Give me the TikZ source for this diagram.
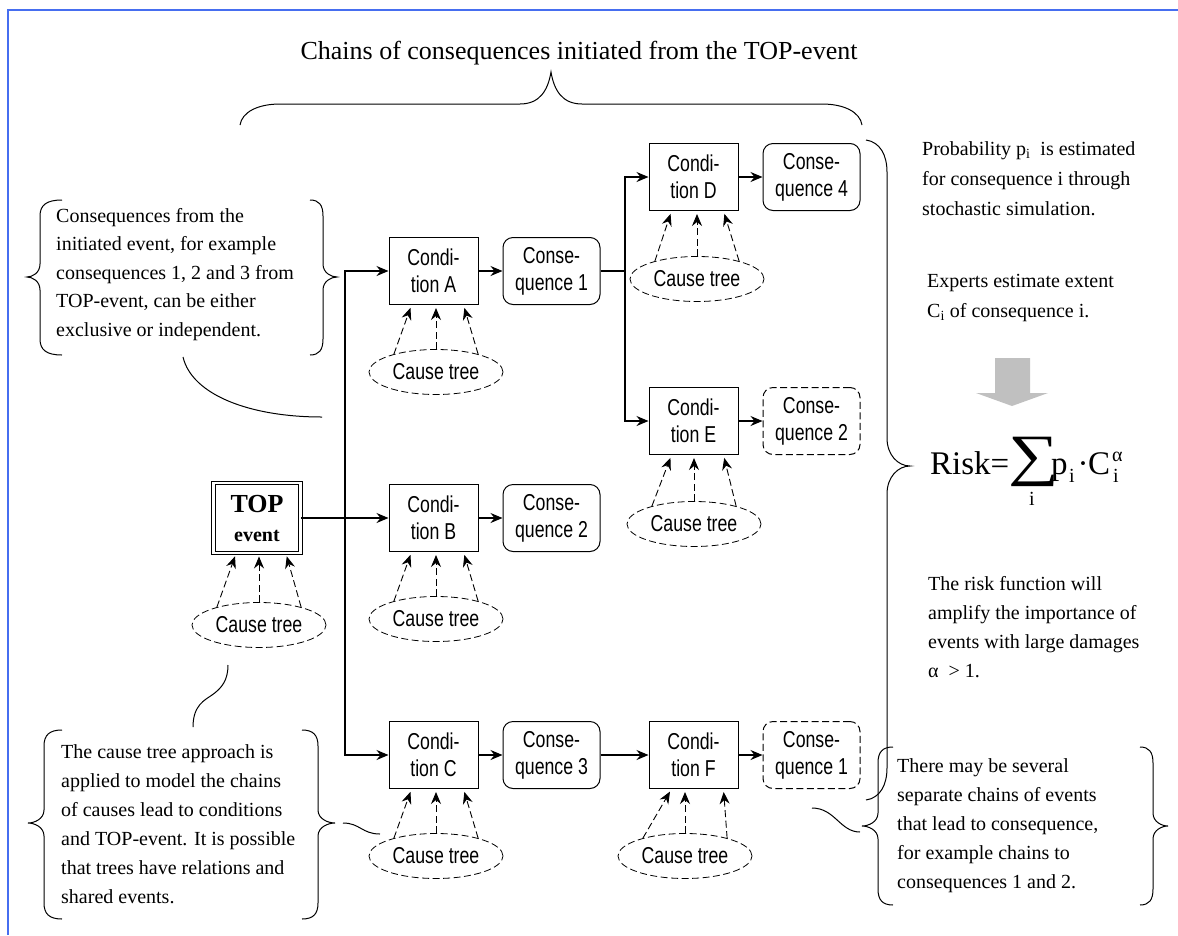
\documentclass[tikz,border=0pt]{standalone}
\usepackage{fontspec}
\setmainfont{Liberation Serif}
\newfontfamily\narrowsans[FakeStretch=0.77]{Liberation Sans}
\usetikzlibrary{arrows.meta,shapes.geometric}

\definecolor{frameblue}{RGB}{70,110,240}
\definecolor{hintgrey}{RGB}{192,192,192}

\tikzset{
  lbl/.style={font=\narrowsans\fontsize{23}{27}\selectfont, align=center, inner sep=0pt},
  cond/.style={lbl, draw, line width=1pt, minimum width=89pt, minimum height=67pt},
  cons/.style={cond, rounded corners=10pt, minimum width=97pt},
  consalt/.style={cons, dash pattern=on 7pt off 3.5pt},
  topbox/.style={draw, double, double distance=2.5pt, line width=0.9pt,
    minimum width=87pt, minimum height=70pt, align=center, inner sep=0pt,
    font=\fontsize{20}{29}\selectfont\bfseries},
  ctree/.style={lbl, ellipse, draw, line width=0.8pt, dash pattern=on 7pt off 3.5pt,
    minimum width=134pt, minimum height=45pt},
  flow/.style={line width=1.1pt, -{Stealth[length=12pt,width=10pt,inset=4pt]}},
  plain/.style={line width=1.1pt},
  ctarr/.style={line width=0.9pt, dash pattern=on 7pt off 3.5pt, shorten >=3pt,
    -{Stealth[length=12pt,width=10pt,inset=4pt]}},
  brc/.style={line width=1pt},
  % multi-line notes are placed by the baseline of their last line
  txt/.style={font=\fontsize{20}{29}\selectfont, align=left, inner sep=0pt, anchor=base west},
  big/.style={inner sep=0pt, font=\fontsize{33}{33}\selectfont},
  small/.style={inner sep=0pt, font=\fontsize{20}{20}\selectfont},
}

% vertical curly brace: end x, top y, bottom y, bar x, tip x, tip y
\newcommand{\VBrace}[6]{%
  \draw[brc] (#1,#2) .. controls ({#4+0.3*(#1-#4)},#2) and (#4,{#2+5}) .. (#4,{#2+16})
    -- (#4,{#6-13}) .. controls (#4,{#6-4}) and ({#5+0.4*(#4-#5)},#6) .. (#5,#6)
    .. controls ({#5+0.4*(#4-#5)},#6) and (#4,{#6+4}) .. (#4,{#6+13})
    -- (#4,{#3-16}) .. controls (#4,{#3-5}) and ({#4+0.3*(#1-#4)},#3) .. (#1,#3);}

% three dashed cause arrows from a cause tree into a box
\newcommand{\CauseArrows}[2]{%
  \draw[ctarr] (#1.157) -- ([xshift=23pt]#2.south west);
  \draw[ctarr] (#1.north) -- (#1.north |- #2.south);
  \draw[ctarr] (#1.23) -- ([xshift=-15pt]#2.south east);}

\begin{document}
\begin{tikzpicture}[x=1pt,y=-1pt]
\useasboundingbox (0,0) rectangle (1178,935);

% frame
\draw[frameblue, line width=1.6pt] (8,935) -- (8,10) -- (1178,10);

% title and top brace
\node[font=\fontsize{26}{30}\selectfont, anchor=base, inner sep=0pt] (title) at (579,59)
  {Chains of consequences initiated from the TOP-event};
\draw[brc] (240,125) .. controls (242,112) and (258,104) .. (280,104) -- (520,104)
  .. controls (540,104) and (548,90) .. (551,72)
  .. controls (554,90) and (562,104) .. (582,104) -- (822,104)
  .. controls (844,104) and (860,112) .. (862,125);

% TOP event
\node[topbox] (top) at (257,518)
  {{\fontsize{26}{29}\selectfont TOP}\\event};
\node[ctree] (cttop) at (259,625) {Cause tree};

% first column
\node[cond] (cA) at (433.5,271) {Condi-\\tion A};
\node[cond] (cB) at (433.5,518) {Condi-\\tion B};
\node[cond] (cC) at (433.5,755) {Condi-\\tion C};
\node[cons] (q1) at (551.5,271) {Conse-\\quence 1};
\node[cons] (q2) at (551.5,518) {Conse-\\quence 2};
\node[cons] (q3) at (551.5,755) {Conse-\\quence 3};
\node[ctree] (ctA) at (436,372) {Cause tree};
\node[ctree] (ctB) at (436,619) {Cause tree};
\node[ctree] (ctC) at (436,856) {Cause tree};

% second column
\node[cond] (cD) at (693.5,177) {Condi-\\tion D};
\node[cond] (cE) at (693.5,421) {Condi-\\tion E};
\node[cond] (cF) at (693.5,755) {Condi-\\tion F};
\node[cons] (q4) at (811.5,177) {Conse-\\quence 4};
\node[consalt] (q2b) at (811.5,421) {Conse-\\quence 2};
\node[consalt] (q1b) at (811.5,755) {Conse-\\quence 1};
\node[ctree] (ctD) at (697,279) {Cause tree};
\node[ctree] (ctE) at (694,524) {Cause tree};
\node[ctree] (ctF) at (685,856) {Cause tree};

% flow from the TOP event
\coordinate (j0) at (345,518);
\draw[flow] (top.east) -- (cB.west);
\draw[flow] (j0) |- (cA.west);
\draw[flow] (j0) |- (cC.west);
\draw[flow] (cA) -- (q1);
\draw[flow] (cB) -- (q2);
\draw[flow] (cC) -- (q3);
\coordinate (j1) at (625,271);
\draw[plain] (q1.east) -- (j1);
\draw[flow] (j1) |- (cD.west);
\draw[flow] (j1) |- (cE.west);
\draw[flow] (q3) -- (cF);
\draw[flow] (cD) -- (q4);
\draw[flow] (cE) -- (q2b);
\draw[flow] (cF) -- (q1b);

% cause trees feeding the boxes
\CauseArrows{cttop}{top}
\CauseArrows{ctA}{cA}
\CauseArrows{ctB}{cB}
\CauseArrows{ctC}{cC}
\CauseArrows{ctD}{cD}
\CauseArrows{ctE}{cE}
\CauseArrows{ctF}{cF}

% note on consequences
\node[txt, font=\fontsize{20}{28.5}\selectfont] (n1) at (56,336) {Consequences from the\\initiated event, for example\\consequences 1, 2 and 3 from\\TOP-event, can be either\\exclusive or independent.};
\VBrace{62}{200}{355}{40}{27}{277}
\VBrace{310}{200}{355}{323}{337}{277}
\draw[brc] (183,357) .. controls (192,395) and (250,417) .. (322,417);

% note on cause trees
\node[txt] (n2) at (61,903) {The cause tree approach is\\applied to model the chains\\of causes lead to conditions\\and TOP-event. It is possible\\that trees have relations and\\shared events.};
\VBrace{62}{730}{919}{44}{28}{823}
\VBrace{302}{730}{919}{318}{335}{823}
\draw[brc] (193,727) .. controls (193,705) and (205,700) .. (212,695)
  .. controls (222,688) and (228,680) .. (228,665);
\draw[brc] (343,823) .. controls (360,823) and (362,834) .. (380,834);

% note on separate chains
\node[txt] (n3) at (897,888) {There may be several\\separate chains of events\\that lead to consequence,\\for example chains to\\consequences 1 and 2.};
\VBrace{893}{747}{905}{878}{862}{826}
\VBrace{1140}{747}{905}{1153}{1168}{826}
\draw[brc] (812,808) .. controls (835,808) and (840,832) .. (860,832);

% right brace over all chains
\draw[brc] (866,140) .. controls (880,142) and (887,155) .. (887,172) -- (887,438)
  .. controls (887,455) and (898,466) .. (910,466)
  .. controls (898,466) and (887,477) .. (887,494) -- (887,768)
  .. controls (887,785) and (880,798) .. (866,800);

% risk estimation
\node[txt, font=\fontsize{20}{30}\selectfont] (prob) at (922,215) {Probability p\textsubscript{i}\ \ is estimated\\for consequence i through\\stochastic simulation.};
\node[txt, font=\fontsize{20}{30}\selectfont] (ext) at (927,317) {Experts estimate extent\\C\textsubscript{i} of consequence i.};
\fill[hintgrey] (995,358) -- (1030,358) -- (1030,393) -- (1048,393) -- (1012,406)
  -- (976,393) -- (995,393) -- cycle;
\node[big, anchor=base west] (risk) at (930,474) {Risk=};
\node[inner sep=0pt, font=\fontsize{57}{57}\selectfont] (sig) at (1034,462) {\scalebox{1.25}[1]{∑}};
\node[small, anchor=base] (sigi) at (1032,505) {i};
\node[big, anchor=base west] (pp) at (1051,474) {p};
\node[small, anchor=base west] (ppi) at (1069,482) {i};
\node[big, anchor=base] (dot) at (1083,474) {·};
\node[big, anchor=base west] (cc) at (1088,474) {C};
\node[small, anchor=base west] (cca) at (1112,461) {α};
\node[small, anchor=base west] (cci) at (1113,482) {i};
\node[txt] (amp) at (928,677) {The risk function will\\amplify the importance of\\events with large damages\\α\ \ > 1.};
\end{tikzpicture}
\end{document}
